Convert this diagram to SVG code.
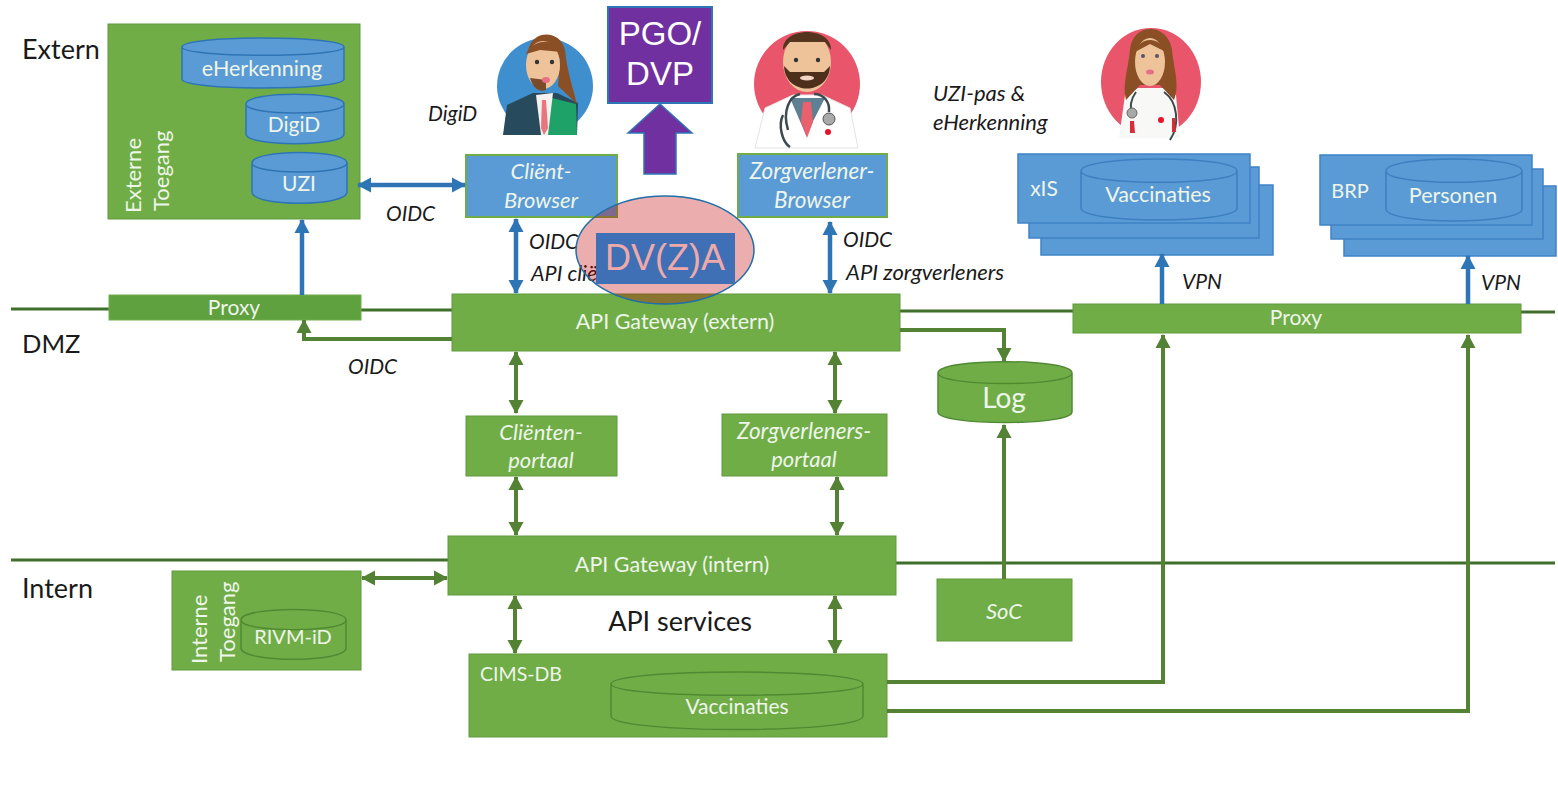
<svg xmlns="http://www.w3.org/2000/svg" width="1558" height="810" viewBox="0 0 1558 810">
<style>
text{font-family:"Lato","Liberation Sans",sans-serif}
.g{fill:#70ad47;stroke:#5f9a3c;stroke-width:1}
.gd{fill:#5fa03f;stroke:#6fae4a;stroke-width:1}
.b{fill:#5b9bd5;stroke:#3f83c6;stroke-width:1.5}
.bg{fill:#5b9bd5;stroke:#70ad47;stroke-width:2}
.cb{fill:#5b9bd5;stroke:#2e75b6;stroke-width:1.5}
.cg{fill:#70ad47;stroke:#4f8a33;stroke-width:1.5}
.w{fill:#eef5ea;text-anchor:middle}
.k{fill:#1a1a1a}
.i{font-style:italic}
.lb{stroke:#2e75b6;stroke-width:4.5;fill:none}
.lg{stroke:#548235;stroke-width:4;fill:none}
.ln{stroke:#3f6f2a;stroke-width:3;fill:none}
</style>
<defs>
<marker id="ab" markerUnits="userSpaceOnUse" markerWidth="16" markerHeight="16" refX="13" refY="8" orient="auto-start-reverse"><path d="M0 0.5L14 8L0 15.5Z" fill="#2e75b6"/></marker>
<marker id="ag" markerUnits="userSpaceOnUse" markerWidth="16" markerHeight="16" refX="13" refY="8" orient="auto-start-reverse"><path d="M0 0.5L14 8L0 15.5Z" fill="#548235"/></marker>
</defs>
<rect width="1558" height="810" fill="#fff"/>

<g id="zone-lines">
<path class="ln" d="M11 309H110M360 310H453M899 311H1074M1520 312H1555M11 560H449M895 563H1555"/>
</g>

<g id="label-extern"><text x="22" y="59" font-size="27" class="k">Extern</text></g>
<g id="label-dmz"><text x="22" y="353" font-size="25.5" class="k">DMZ</text></g>
<g id="label-intern"><text x="22" y="598" font-size="27" class="k">Intern</text></g>

<g id="externe-toegang">
<rect class="g" x="108" y="24" width="252" height="195"/>
<text class="w" font-size="22" transform="translate(141 213) rotate(-90)" style="text-anchor:start">Externe</text>
<text class="w" font-size="22" transform="translate(169 211) rotate(-90)" style="text-anchor:start">Toegang</text>
</g>
<g id="eherkenning">
<path class="cb" d="M182 47V79C182 91 344 91 344 79V47C344 35 182 35 182 47C182 58 344 58 344 47"/>
<text class="w" x="262" y="76" font-size="21.5">eHerkenning</text>
</g>
<g id="digid-db">
<path class="cb" d="M246 104V134C246 147 344 147 344 134V104C344 91 246 91 246 104C246 116 344 116 344 104"/>
<text class="w" x="294" y="132" font-size="21">DigiD</text>
</g>
<g id="uzi-db">
<path class="cb" d="M252 163V192C252 207 347 207 347 192V163C347 149 252 149 252 163C252 175 347 175 347 163"/>
<text class="w" x="299" y="191" font-size="21">UZI</text>
</g>

<g id="proxy-left">
<rect class="gd" x="109" y="295" width="252" height="25"/>
<text class="w" x="234" y="315" font-size="21">Proxy</text>
</g>

<g id="persoon-client">
<circle cx="545" cy="86" r="48" fill="#3f8fcf"/>
<path d="M503 135L507 105L533 93H557L578 103L577 135Z" fill="#274a5c"/>
<path d="M548 97L576 104L577 135H547Z" fill="#1fa268"/>
<path d="M536 95L553 93L548 135H541Z" fill="#f4f1ee"/>
<path d="M542 100H546L548 128L544 135L541 128Z" fill="#e9757f"/>
<path d="M528 52C530 30 560 28 565 50C567 70 572 85 577 104L558 86L560 58Z" fill="#8a4f25"/>
<ellipse cx="543" cy="65" rx="17" ry="24" fill="#eec39a"/>
<path d="M526 54C533 38 556 38 561 52L540 50Z" fill="#8a4f25"/>
<path d="M530 78C534 90 540 92 546 90L546 80Z" fill="#7a4a2a"/>
<circle cx="537" cy="62" r="2.2" fill="#333"/><circle cx="552" cy="62" r="2.2" fill="#333"/>
<ellipse cx="546" cy="80" rx="4" ry="3" fill="#e86f88"/>
</g>
<g id="persoon-zorgverlener">
<circle cx="807" cy="84" r="53" fill="#e9566b"/>
<path d="M755 148L765 108L793 95H822L850 108L858 148Z" fill="#fff" stroke="#e3e3e3"/>
<path d="M790 98L806 135L825 98Z" fill="#5f7f92"/>
<path d="M803 102H811L813 122L807 138L801 122Z" fill="#e9616d"/>
<ellipse cx="807" cy="62" rx="24" ry="30" fill="#eec39a"/>
<path d="M783 50C782 26 832 26 831 50L825 42H790Z" fill="#54341f"/>
<path d="M784 66C785 96 829 96 830 66L824 72H790Z" fill="#4d2f1c"/>
<ellipse cx="807" cy="78" rx="7" ry="2.5" fill="#f3d3c4"/>
<circle cx="796" cy="60" r="2.2" fill="#333"/><circle cx="818" cy="60" r="2.2" fill="#333"/>
<path d="M788 130C782 110 790 96 800 94M829 112C830 102 824 94 814 94M783 115C778 125 782 142 790 147" fill="none" stroke="#3d4a50" stroke-width="2.5"/>
<circle cx="829" cy="119" r="6" fill="#a9a9a9" stroke="#555"/>
<circle cx="828" cy="132" r="3" fill="#e8112d"/>
</g>
<g id="persoon-arts">
<ellipse cx="1151" cy="82" rx="50" ry="54" fill="#e9566b"/>
<path d="M1119 138L1125 95L1138 88H1163L1176 95L1180 138Z" fill="#f8f8f6"/>
<path d="M1130 50C1132 22 1168 22 1172 50C1174 70 1180 85 1174 100L1160 85H1140L1126 100C1122 85 1128 70 1130 50Z" fill="#8a4f25"/>
<ellipse cx="1150" cy="62" rx="15" ry="24" fill="#eec39a"/>
<path d="M1135 52C1140 36 1160 36 1166 52L1150 44Z" fill="#8a4f25"/>
<ellipse cx="1150" cy="72" rx="4" ry="2.5" fill="#e86f88"/>
<circle cx="1143" cy="56" r="2" fill="#556"/><circle cx="1157" cy="56" r="2" fill="#556"/>
<path d="M1136 92C1130 100 1130 108 1132 112M1164 92C1178 102 1180 125 1170 140" fill="none" stroke="#3d4a50" stroke-width="2"/>
<circle cx="1132" cy="113" r="5" fill="#a9a9a9" stroke="#666"/>
<path d="M1130 121h4l1 12h-5zM1172 118h3l1 14h-4z" fill="#d62d3a"/>
<circle cx="1161" cy="120" r="3" fill="#e8112d"/>
</g>

<g id="label-digid"><text class="k i" x="428" y="121" font-size="21">DigiD</text></g>
<g id="label-uzi"><text class="k i" x="933" y="101" font-size="22">UZI-pas &amp;</text><text class="k i" x="933" y="130" font-size="22">eHerkenning</text></g>

<g id="client-browser">
<rect class="bg" x="466" y="155" width="151" height="62"/>
<text class="w i" x="541" y="179" font-size="22">Cliënt-</text>
<text class="w i" x="541" y="208" font-size="22">Browser</text>
</g>
<g id="zorgverlener-browser">
<rect class="bg" x="738" y="154" width="149" height="63"/>
<text class="w i" x="812" y="179" font-size="22.5">Zorgverlener-</text>
<text class="w i" x="812" y="208" font-size="22.5">Browser</text>
</g>

<g id="xis">
<rect class="b" x="1041" y="185" width="232" height="70"/>
<rect class="b" x="1029" y="167" width="230" height="71"/>
<rect class="b" x="1018" y="154" width="232" height="69"/>
<text class="w" x="1044" y="196" font-size="21">xIS</text>
<path d="M1081 171V208C1081 224 1237 224 1237 208V171C1237 155 1081 155 1081 171C1081 186 1237 186 1237 171" fill="none" stroke="#3d7fc0" stroke-width="1.5"/>
<text class="w" x="1158" y="202" font-size="21.5">Vaccinaties</text>
</g>
<g id="brp">
<rect class="b" x="1344" y="186" width="212" height="70"/>
<rect class="b" x="1331" y="169" width="212" height="70"/>
<rect class="b" x="1320" y="155" width="212" height="70"/>
<text class="w" x="1350" y="198" font-size="20">BRP</text>
<path d="M1386 171V209C1386 225 1522 225 1522 209V171C1522 155 1386 155 1386 171C1386 186 1522 186 1522 171" fill="none" stroke="#3d7fc0" stroke-width="1.5"/>
<text class="w" x="1453" y="203" font-size="21.5">Personen</text>
</g>

<g id="proxy-right">
<rect class="g" x="1073" y="304" width="448" height="29"/>
<text class="w" x="1296" y="325" font-size="21">Proxy</text>
</g>

<g id="api-gateway-extern">
<rect class="g" x="452" y="294" width="448" height="57"/>
<text class="w" x="675" y="329" font-size="21.5">API Gateway (extern)</text>
</g>
<g id="clientenportaal">
<rect class="g" x="466" y="416" width="151" height="60"/>
<text class="w i" x="541" y="440" font-size="22">Cliënten-</text>
<text class="w i" x="541" y="468" font-size="22">portaal</text>
</g>
<g id="zorgverlenersportaal">
<rect class="g" x="722" y="414" width="165" height="62"/>
<text class="w i" x="804" y="439" font-size="22.5">Zorgverleners-</text>
<text class="w i" x="804" y="467" font-size="22">portaal</text>
</g>
<g id="log">
<path class="cg" d="M938 373V412C938 426 1072 426 1072 412V373C1072 358 938 358 938 373C938 387 1072 387 1072 373"/>
<text class="w" x="1004" y="408" font-size="28">Log</text>
</g>
<g id="api-gateway-intern">
<rect class="g" x="448" y="536" width="448" height="59"/>
<text class="w" x="672" y="572" font-size="21.5">API Gateway (intern)</text>
</g>
<g id="interne-toegang">
<rect class="g" x="172" y="571" width="189" height="99"/>
<text class="w" font-size="22" transform="translate(207 664) rotate(-90)" style="text-anchor:start">Interne</text>
<text class="w" font-size="22" transform="translate(235 662) rotate(-90)" style="text-anchor:start">Toegang</text>
<path d="M241 620V648C241 663 346 663 346 648V620C346 606 241 606 241 620C241 633 346 633 346 620" fill="none" stroke="#4f8a33" stroke-width="1.5"/>
<text class="w" x="293" y="644" font-size="20">RIVM-iD</text>
</g>
<g id="soc">
<rect class="g" x="937" y="579" width="135" height="62"/>
<text class="w i" x="1004" y="619" font-size="22">SoC</text>
</g>
<g id="cims-db">
<rect class="g" x="469" y="654" width="418" height="83"/>
<text class="w" x="521" y="681" font-size="19.5">CIMS-DB</text>
<path d="M611 684V716C611 734 863 734 863 716V684C863 668 611 668 611 684C611 699 863 699 863 684" fill="none" stroke="#4f8a33" stroke-width="1.5"/>
<text class="w" x="737" y="714" font-size="21">Vaccinaties</text>
</g>
<g id="label-api-services"><text x="680" y="631" font-size="27" text-anchor="middle" class="k">API services</text></g>

<g id="connectors">
<path class="lb" marker-start="url(#ab)" marker-end="url(#ab)" d="M358 185H465"/>
<path class="lb" marker-end="url(#ab)" d="M302 295V220"/>
<path class="lb" marker-start="url(#ab)" marker-end="url(#ab)" d="M516 219V293"/>
<path class="lb" marker-start="url(#ab)" marker-end="url(#ab)" d="M830 222V293"/>
<path class="lb" marker-end="url(#ab)" d="M1162 304V254"/>
<path class="lb" marker-end="url(#ab)" d="M1468 304V256"/>
<path class="lg" marker-end="url(#ag)" d="M452 339H304V320"/>
<path class="lg" marker-end="url(#ag)" d="M900 330H1004V361"/>
<path class="lg" marker-start="url(#ag)" marker-end="url(#ag)" d="M516 352V413"/>
<path class="lg" marker-start="url(#ag)" marker-end="url(#ag)" d="M835 352V413"/>
<path class="lg" marker-start="url(#ag)" marker-end="url(#ag)" d="M516 477V535"/>
<path class="lg" marker-start="url(#ag)" marker-end="url(#ag)" d="M837 477V535"/>
<path class="lg" marker-start="url(#ag)" marker-end="url(#ag)" d="M515 596V653"/>
<path class="lg" marker-start="url(#ag)" marker-end="url(#ag)" d="M835 596V653"/>
<path class="lg" marker-start="url(#ag)" marker-end="url(#ag)" d="M362 578H447"/>
<path class="lg" marker-end="url(#ag)" d="M1004 579V425"/>
<path class="lg" marker-end="url(#ag)" d="M887 682H1163V335"/>
<path class="lg" marker-end="url(#ag)" d="M887 711H1468V335"/>
</g>

<g id="connector-labels">
<text class="k i" x="386" y="221" font-size="21">OIDC</text>
<text class="k i" x="529" y="249" font-size="21">OIDC</text>
<text class="k i" x="531" y="281" font-size="21.5">API clië</text>
<text class="k i" x="843" y="247" font-size="21">OIDC</text>
<text class="k i" x="846" y="280" font-size="22">API zorgverleners</text>
<text class="k i" x="348" y="374" font-size="21">OIDC</text>
<text class="k i" x="1182" y="289" font-size="21">VPN</text>
<text class="k i" x="1481" y="290" font-size="21">VPN</text>
</g>

<g id="dvza">
<ellipse cx="665" cy="250" rx="89" ry="54" fill="#c00000" fill-opacity="0.32" stroke="#1f6fa8" stroke-width="1.5"/>
<rect x="596" y="233" width="139" height="51" fill="#3f6fb5"/>
<text x="665" y="270" font-size="36" text-anchor="middle" fill="#efa9a9" style="font-family:'Liberation Sans',sans-serif">DV(Z)A</text>
</g>
<g id="pgo-dvp">
<rect x="608" y="7" width="104" height="96" fill="#7030a0" stroke="#2e75b6" stroke-width="2"/>
<text x="660" y="45" font-size="33" text-anchor="middle" fill="#fff" style="font-family:'Liberation Sans',sans-serif">PGO/</text>
<text x="660" y="85" font-size="33" text-anchor="middle" fill="#fff" style="font-family:'Liberation Sans',sans-serif">DVP</text>
</g>
<g id="pgo-pijl">
<path d="M660 104L692 133H676V174H644V133H628Z" fill="#7030a0" stroke="#2e75b6" stroke-width="1.5"/>
</g>
</svg>
